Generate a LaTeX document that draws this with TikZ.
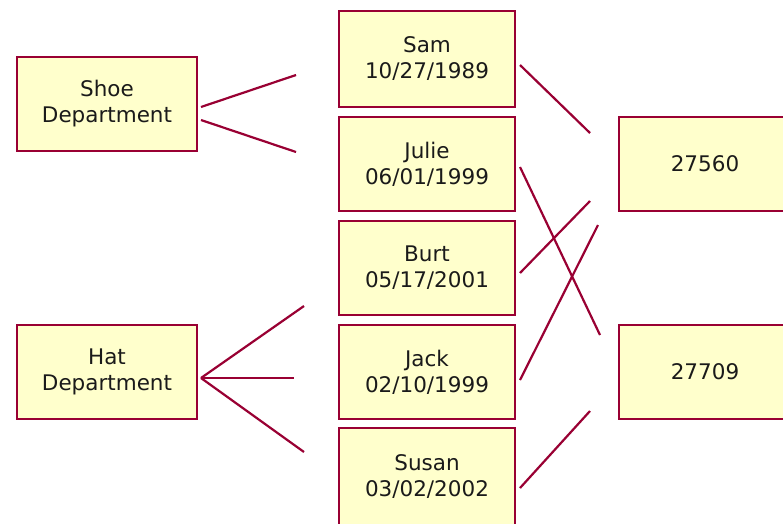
\documentclass[tikz,border=0pt]{standalone}
\usepackage{fontspec}
\setmainfont{DejaVu Sans}
\definecolor{dred}{HTML}{990033}
\definecolor{lyellow}{HTML}{FFFFCC}
\definecolor{ink}{HTML}{1A1A1A}
\begin{document}
\begin{tikzpicture}[x=1pt,y=-1pt,
  box/.style={draw=dred, fill=lyellow, line width=2.4pt, align=center,
    font=\fontsize{21.5}{26}\selectfont, text=ink, inner sep=0pt},
  dept/.style={box, minimum width=180pt, minimum height=94pt},
  person/.style={box, minimum width=176pt, minimum height=94pt},
  zipbox/.style={box, minimum width=172pt, minimum height=94pt},
  link/.style={draw=dred, line width=2.2pt}]
\useasboundingbox (0,0) rectangle (783,523);
\clip (0,0) rectangle (783,523);
% departments
\node[dept] (shoe) at (107,104) {Shoe\\Department};
\node[dept] (hat) at (107,372) {Hat\\Department};
% people
\node[person, minimum height=96pt] (sam) at (427,59) {Sam\\10/27/1989};
\node[person] (julie) at (427,164) {Julie\\06/01/1999};
\node[person] (burt) at (427,268) {Burt\\05/17/2001};
\node[person] (jack) at (427,372) {Jack\\02/10/1999};
\node[person, minimum height=98pt] (susan) at (427,477) {Susan\\03/02/2002};
% zip codes
\node[zipbox] (z1) at (705,164) {27560};
\node[zipbox] (z2) at (705,372) {27709};
% free connector ends
\coordinate (s0a) at (201,107); \coordinate (s1) at (296,75);
\coordinate (s0b) at (201,120); \coordinate (s2) at (296,152);
\coordinate (h0) at (201,378);
\coordinate (h1) at (304,306); \coordinate (h2) at (294,378); \coordinate (h3) at (304,452);
\coordinate (samE) at (520,65);  \coordinate (samT) at (590,133);
\coordinate (julE) at (520,167); \coordinate (julT) at (600,335);
\coordinate (burE) at (520,273); \coordinate (burT) at (590,201);
\coordinate (jacE) at (520,380); \coordinate (jacT) at (598,225);
\coordinate (susE) at (520,488); \coordinate (susT) at (590,411);
% connectors
\draw[link] (s0a) -- (s1);
\draw[link] (s0b) -- (s2);
\draw[link] (h0) -- (h1);
\draw[link] (h0) -- (h2);
\draw[link] (h0) -- (h3);
\draw[link] (samE) -- (samT);
\draw[link] (julE) -- (julT);
\draw[link] (burE) -- (burT);
\draw[link] (jacE) -- (jacT);
\draw[link] (susE) -- (susT);
\end{tikzpicture}
\end{document}
